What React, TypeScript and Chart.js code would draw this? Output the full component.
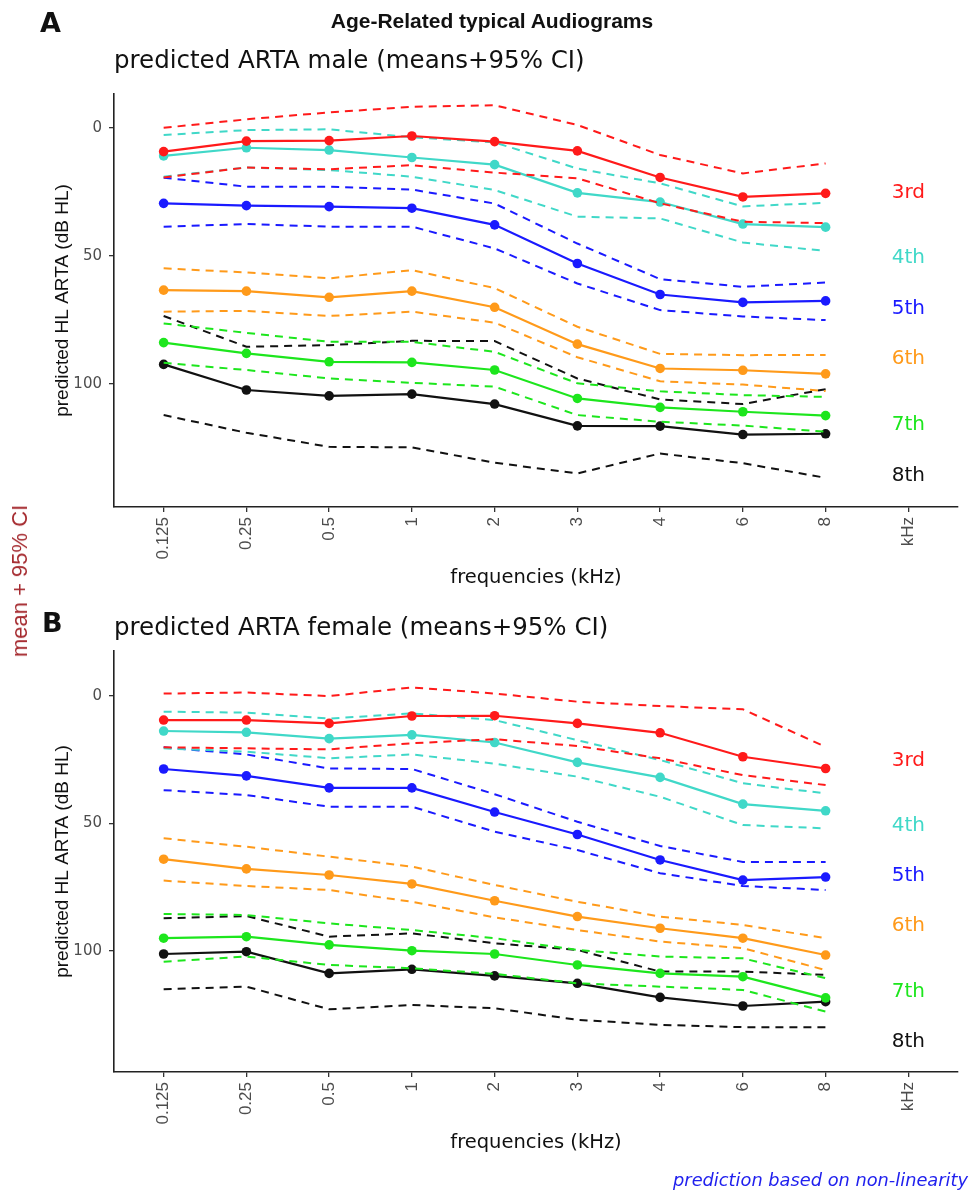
import React, { useEffect, useRef } from "react";
import { Chart, registerables } from "chart.js";

Chart.register(...registerables);

// ---------- data ----------
const FREQ_LABELS = ["0.125", "0.25", "0.5", "1", "2", "3", "4", "6", "8", "kHz"];
const Y_TICKS = [0, 50, 100];
const DECILE_NAMES = ["3rd", "4th", "5th", "6th", "7th", "8th"];
const DECILE_LABEL_VALUES = [25.4, 50.7, 70.6, 90.3, 116, 135.8];
const DECILE_COLORS = ["#ff1a1a", "#40d8c8", "#1a1aff", "#ff9a1a", "#1de61d", "#111111"];

// male (panel A): mean, upper CI (lower dB), lower CI
const M3_MEAN = [9.2, 5.1, 4.9, 3.1, 5.3, 8.9, 19.3, 26.9, 25.5];
const M3_UP = [-0.1, -3.4, -6.1, -8.3, -8.9, -1.2, 10.5, 17.7, 13.8];
const M3_LO = [19.3, 15.4, 16.1, 14.5, 17.4, 19.6, 29.4, 36.6, 37.1];
const M4_MEAN = [10.9, 7.7, 8.6, 11.5, 14.3, 25.3, 28.9, 37.5, 38.7];
const M4_UP = [2.7, 0.8, 0.5, 3.6, 5.6, 15.8, 21.6, 30.6, 29.2];
const M4_LO = [19.0, 15.4, 16.4, 19.0, 24.2, 34.6, 35.3, 44.7, 48.0];
const M5_MEAN = [29.4, 30.3, 30.7, 31.3, 37.8, 52.9, 65.0, 68.1, 67.5];
const M5_UP = [19.4, 22.9, 22.9, 24.0, 29.5, 45.1, 59.0, 62.0, 60.3];
const M5_LO = [38.5, 37.5, 38.5, 38.5, 47.0, 60.7, 71.1, 73.6, 75.0];
const M6_MEAN = [63.3, 63.7, 66.1, 63.7, 70.0, 84.4, 93.9, 94.6, 96.0];
const M6_UP = [54.8, 56.4, 58.7, 55.5, 62.5, 77.6, 88.2, 88.7, 88.6];
const M6_LO = [71.7, 71.4, 73.4, 71.7, 76.0, 89.5, 98.9, 100.2, 102.7];
const M7_MEAN = [83.8, 88.0, 91.3, 91.5, 94.5, 105.6, 109.1, 110.8, 112.3];
const M7_UP = [76.3, 80.0, 83.5, 83.5, 87.4, 99.7, 102.8, 104.3, 105.0];
const M7_LO = [91.7, 94.5, 97.8, 99.5, 101.0, 112.1, 114.7, 116.2, 118.6];
const M8_MEAN = [92.3, 102.3, 104.6, 103.9, 107.8, 116.3, 116.4, 119.7, 119.4];
const M8_UP = [73.4, 85.4, 84.8, 83.1, 83.2, 97.8, 106.0, 107.8, 102.0];
const M8_LO = [112.1, 119.0, 124.5, 124.7, 130.7, 134.9, 127.1, 130.9, 136.6];

// female (panel B)
const F3_MEAN = [9.4, 9.4, 10.7, 7.8, 7.7, 10.7, 14.4, 23.8, 28.4];
const F3_UP = [-1.0, -1.4, 0.0, -3.4, -1.0, 2.2, 3.9, 5.2, 19.9];
const F3_LO = [20.1, 20.5, 20.9, 18.5, 16.9, 19.6, 24.4, 31.0, 34.9];
const F4_MEAN = [13.7, 14.2, 16.7, 15.2, 18.2, 26.0, 31.9, 42.4, 45.0];
const F4_UP = [6.1, 6.5, 8.8, 6.8, 9.4, 17.3, 25.1, 34.2, 38.2];
const F4_LO = [20.5, 21.8, 24.4, 22.9, 26.5, 31.6, 39.5, 50.6, 51.9];
const F5_MEAN = [28.6, 31.3, 36.0, 36.0, 45.5, 54.3, 64.3, 72.2, 71.0];
const F5_UP = [20.1, 22.9, 28.4, 28.6, 38.5, 49.3, 58.8, 65.1, 65.1];
const F5_LO = [36.9, 38.8, 43.4, 43.4, 53.2, 60.4, 69.5, 74.5, 76.1];
const F6_MEAN = [64.0, 67.8, 70.2, 73.7, 80.3, 86.5, 91.1, 95.0, 101.6];
const F6_UP = [55.8, 59.1, 63.0, 66.9, 74.1, 80.7, 86.5, 89.8, 95.0];
const F6_LO = [72.4, 74.5, 76.1, 80.7, 86.8, 91.8, 96.3, 98.9, 107.5];
const F7_MEAN = [95.0, 94.4, 97.6, 99.9, 101.2, 105.5, 108.8, 110.1, 118.4];
const F7_UP = [85.5, 85.9, 89.2, 91.8, 95.0, 99.6, 102.2, 102.9, 110.7];
const F7_LO = [104.2, 102.2, 105.5, 106.8, 109.0, 112.7, 114.0, 115.3, 123.8];
const F8_MEAN = [101.2, 100.3, 108.8, 107.2, 109.8, 112.7, 118.2, 121.6, 119.9];
const F8_UP = [87.2, 86.3, 94.4, 93.1, 97.0, 99.6, 108.1, 108.1, 109.4];
const F8_LO = [115.0, 114.0, 122.9, 121.2, 122.5, 127.0, 129.0, 129.9, 129.9];

const MALE = [
  [M3_MEAN, M3_UP, M3_LO],
  [M4_MEAN, M4_UP, M4_LO],
  [M5_MEAN, M5_UP, M5_LO],
  [M6_MEAN, M6_UP, M6_LO],
  [M7_MEAN, M7_UP, M7_LO],
  [M8_MEAN, M8_UP, M8_LO],
];
const FEMALE = [
  [F3_MEAN, F3_UP, F3_LO],
  [F4_MEAN, F4_UP, F4_LO],
  [F5_MEAN, F5_UP, F5_LO],
  [F6_MEAN, F6_UP, F6_LO],
  [F7_MEAN, F7_UP, F7_LO],
  [F8_MEAN, F8_UP, F8_LO],
];

// ---------- panel geometry ----------
const PAGE_W = 973;
const PLOT_LEFT = 114;
const PLOT_RIGHT = 958;

type PanelGeom = {
  canvasTop: number;
  canvasHeight: number;
  areaTop: number;
  areaBottom: number;
  yMin: number;
  yMax: number;
  xTitleFromBottom: number;
};

const GEOM_A: PanelGeom = {
  canvasTop: 0,
  canvasHeight: 600,
  areaTop: 94,
  areaBottom: 507,
  yMin: -13.3,
  yMax: 148,
  xTitleFromBottom: 22,
};
const GEOM_B: PanelGeom = {
  canvasTop: 600,
  canvasHeight: 596,
  areaTop: 51,
  areaBottom: 472,
  yMin: -17.7,
  yMax: 147.5,
  xTitleFromBottom: 53,
};

const SANS = "'DejaVu Sans', sans-serif";
const ARIAL = "'Liberation Sans', Arial, sans-serif";

const decileLabelPlugin = {
  id: "decileLabels",
  afterDatasetsDraw(chart: any) {
    const { ctx, scales } = chart;
    const x = scales.x.getPixelForValue(FREQ_LABELS.length - 1);
    ctx.save();
    ctx.font = `20px ${SANS}`;
    ctx.textAlign = "center";
    ctx.textBaseline = "middle";
    DECILE_NAMES.forEach((name, i) => {
      ctx.fillStyle = DECILE_COLORS[i];
      ctx.fillText(name, x, scales.y.getPixelForValue(DECILE_LABEL_VALUES[i]));
    });
    ctx.restore();
  },
};

function buildDatasets(groups: number[][][]) {
  const ds: any[] = [];
  groups.forEach((g, i) => {
    const color = DECILE_COLORS[i];
    const [mean, up, lo] = g;
    const toPts = (arr: number[]) => arr.map((v, k) => ({ x: k, y: v }));
    ds.push({
      label: `${DECILE_NAMES[i]} upper`,
      data: toPts(up),
      borderColor: color,
      borderWidth: 2,
      borderDash: [8, 6],
      pointRadius: 0,
      fill: false,
    });
    ds.push({
      label: `${DECILE_NAMES[i]} lower`,
      data: toPts(lo),
      borderColor: color,
      borderWidth: 2,
      borderDash: [8, 6],
      pointRadius: 0,
      fill: false,
    });
    ds.push({
      label: `${DECILE_NAMES[i]} mean`,
      data: toPts(mean),
      borderColor: color,
      backgroundColor: color,
      borderWidth: 2.2,
      pointRadius: 4.8,
      pointBorderWidth: 0,
      pointBackgroundColor: color,
      fill: false,
    });
  });
  return ds;
}

function Panel({ geom, groups }: { geom: PanelGeom; groups: number[][][] }) {
  const ref = useRef<HTMLCanvasElement | null>(null);
  useEffect(() => {
    if (!ref.current) return;
    const xBoxH = geom.canvasHeight - geom.areaBottom;
    const xTitleSize = 19.5;
    const yTitleSize = 19;
    const chart = new Chart(ref.current, {
      type: "line",
      data: { datasets: buildDatasets(groups) },
      plugins: [decileLabelPlugin],
      options: {
        animation: false,
        responsive: false,
        maintainAspectRatio: false,
        layout: {
          padding: { left: 0, top: geom.areaTop, right: PAGE_W - PLOT_RIGHT, bottom: 0 },
        },
        plugins: {
          legend: { display: false },
          tooltip: { enabled: false },
          title: { display: false },
        },
        scales: {
          x: {
            type: "linear",
            min: -0.6,
            max: FREQ_LABELS.length - 1 + 0.6,
            afterBuildTicks: (s: any) => {
              s.ticks = FREQ_LABELS.map((_, i) => ({ value: i }));
            },
            afterFit: (s: any) => {
              s.height = xBoxH;
            },
            ticks: {
              autoSkip: false,
              minRotation: 90,
              maxRotation: 90,
              padding: 5,
              color: "#4d4d4d",
              font: { family: ARIAL, size: 17 },
              callback: (v: any) => FREQ_LABELS[v as number] ?? "",
            },
            grid: {
              display: true,
              drawOnChartArea: false,
              drawTicks: true,
              tickLength: 5,
              color: "#333333",
              lineWidth: 1.3,
            },
            border: { display: true, color: "#222222", width: 1.6 },
            title: {
              display: true,
              text: "frequencies (kHz)",
              color: "#111111",
              font: { family: SANS, size: xTitleSize },
              padding: { top: 0, bottom: geom.xTitleFromBottom - (xTitleSize * 1.2) / 2 },
            },
          },
          y: {
            type: "linear",
            reverse: true,
            min: geom.yMin,
            max: geom.yMax,
            afterBuildTicks: (s: any) => {
              s.ticks = Y_TICKS.map((v) => ({ value: v }));
            },
            afterFit: (s: any) => {
              s.width = PLOT_LEFT;
            },
            ticks: {
              padding: 7,
              color: "#4d4d4d",
              font: { family: SANS, size: 15 },
            },
            grid: {
              display: true,
              drawOnChartArea: false,
              drawTicks: true,
              tickLength: 5,
              color: "#333333",
              lineWidth: 1.3,
            },
            border: { display: true, color: "#222222", width: 1.6 },
            title: {
              display: true,
              text: "predicted HL ARTA (dB HL)",
              color: "#111111",
              font: { family: ARIAL, size: yTitleSize },
              padding: { top: 63 - (yTitleSize * 1.2) / 2, bottom: 0 },
            },
          },
        },
      } as any,
    });
    return () => chart.destroy();
  }, [geom, groups]);

  return (
    <canvas
      ref={ref}
      width={PAGE_W}
      height={geom.canvasHeight}
      style={{
        position: "absolute",
        left: 0,
        top: geom.canvasTop,
        width: PAGE_W,
        height: geom.canvasHeight,
      }}
    />
  );
}

function Txt({
  x,
  y,
  size,
  children,
  bold,
  italic,
  color,
  family,
  align,
}: {
  x: number;
  y: number;
  size: number;
  children: React.ReactNode;
  bold?: boolean;
  italic?: boolean;
  color?: string;
  family?: string;
  align?: "left" | "center" | "right";
}) {
  const tx = align === "center" ? "-50%" : align === "right" ? "-100%" : "0";
  return (
    <div
      style={{
        position: "absolute",
        left: x,
        top: y,
        transform: `translate(${tx}, -50%)`,
        fontSize: size,
        lineHeight: 1,
        fontFamily: family ?? SANS,
        fontWeight: bold ? 700 : 400,
        fontStyle: italic ? "italic" : "normal",
        color: color ?? "#111111",
        whiteSpace: "nowrap",
      }}
    >
      {children}
    </div>
  );
}

export default function App() {
  return (
    <div
      style={{
        position: "absolute",
        left: 0,
        top: 0,
        width: PAGE_W,
        height: 1196,
        background: "#ffffff",
        overflow: "hidden",
      }}
    >
      <Panel geom={GEOM_A} groups={MALE} />
      <Panel geom={GEOM_B} groups={FEMALE} />
      <Txt x={40} y={22} size={27} bold>
        A
      </Txt>
      <Txt x={492} y={20} size={21} bold align="center" family={ARIAL}>
        Age-Related typical Audiograms
      </Txt>
      <Txt x={114} y={60} size={24.5}>
        predicted ARTA male (means+95% CI)
      </Txt>
      <Txt x={42} y={622} size={27} bold>
        B
      </Txt>
      <Txt x={114} y={627} size={24.5}>
        predicted ARTA female (means+95% CI)
      </Txt>
      <div
        style={{
          position: "absolute",
          left: 20,
          top: 581,
          transform: "translate(-50%, -50%) rotate(-90deg)",
          fontSize: 22,
          lineHeight: 1,
          fontFamily: ARIAL,
          color: "#a52a2f",
          whiteSpace: "nowrap",
        }}
      >
        mean + 95% CI
      </div>
      <Txt x={968} y={1180} size={17.8} italic color="#2121ee" align="right">
        prediction based on non-linearity
      </Txt>
    </div>
  );
}
